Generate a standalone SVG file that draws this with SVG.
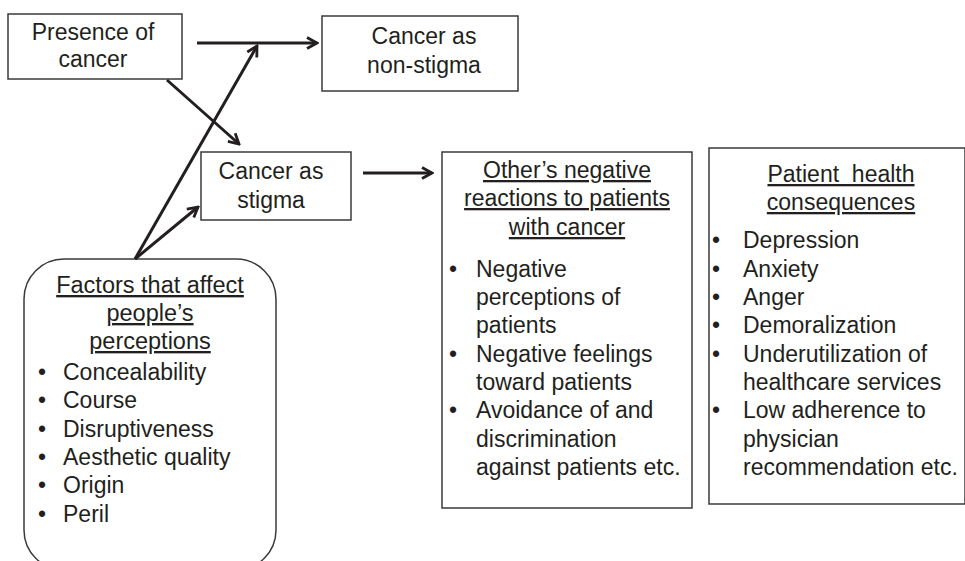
<svg xmlns="http://www.w3.org/2000/svg" width="965" height="561" viewBox="0 0 965 561">
<defs>
<marker id="ah" viewBox="0 0 14 14" refX="12" refY="7" markerWidth="14" markerHeight="14" markerUnits="userSpaceOnUse" orient="auto">
<path d="M2,1.5 L12,7 L2,12.5" fill="none" stroke="#231f20" stroke-width="2.8" stroke-linejoin="miter"/>
</marker>
</defs>
<style>
text{font-family:"Liberation Sans",Arial,sans-serif;font-size:23px;fill:#231f20}
.c{text-anchor:middle}
.u{text-decoration:underline}
.box{fill:#fff;stroke:#3a3a3a;stroke-width:1.5}
.con{stroke:#231f20;stroke-width:3;fill:none;marker-end:url(#ah)}
</style>
<rect width="965" height="561" fill="#fff"/>
<g id="presence">
<rect class="box" x="8" y="14" width="174" height="65"/>
<text class="c" x="93" y="40">Presence of</text>
<text class="c" x="93" y="67">cancer</text>
</g>
<g id="nonstigma">
<rect class="box" x="322" y="16" width="196" height="75"/>
<text class="c" x="424" y="44">Cancer as</text>
<text class="c" x="424" y="73">non-stigma</text>
</g>
<g id="stigma">
<rect class="box" x="201" y="152" width="150" height="68"/>
<text class="c" x="271" y="179">Cancer as</text>
<text class="c" x="271" y="208">stigma</text>
</g>
<g id="factors">
<rect class="box" x="24" y="259" width="252" height="311" rx="40" ry="40"/>
<text class="c u" x="150" y="293" style="font-size:23.5px">Factors that affect</text>
<text class="c u" x="150" y="321" style="font-size:23.5px">people’s</text>
<text class="c u" x="150" y="349" style="font-size:23.5px">perceptions</text>
<g style="font-size:23.5px">
<text x="38" y="380">•</text><text x="63" y="380">Concealability</text>
<text x="38" y="408">•</text><text x="63" y="408">Course</text>
<text x="38" y="437">•</text><text x="63" y="437">Disruptiveness</text>
<text x="38" y="465">•</text><text x="63" y="465">Aesthetic quality</text>
<text x="38" y="493">•</text><text x="63" y="493">Origin</text>
<text x="38" y="522">•</text><text x="63" y="522">Peril</text>
</g>
</g>
<g id="others">
<rect class="box" x="442" y="152" width="250" height="356"/>
<text class="c u" x="567" y="178">Other’s negative</text>
<text class="c u" x="567" y="206">reactions to patients</text>
<text class="c u" x="567" y="235">with cancer</text>
<text x="449" y="277">•</text><text x="476" y="277">Negative</text>
<text x="476" y="305">perceptions of</text>
<text x="476" y="333">patients</text>
<text x="449" y="362">•</text><text x="476" y="362">Negative feelings</text>
<text x="476" y="390">toward patients</text>
<text x="449" y="418">•</text><text x="476" y="418">Avoidance of and</text>
<text x="476" y="447">discrimination</text>
<text x="476" y="475">against patients etc.</text>
</g>
<g id="consequences">
<rect class="box" x="709" y="148" width="256" height="356"/>
<text class="c u" x="841" y="182" xml:space="preserve">Patient  health</text>
<text class="c u" x="841" y="210">consequences</text>
<text x="712" y="248">•</text><text x="743" y="248">Depression</text>
<text x="712" y="277">•</text><text x="743" y="277">Anxiety</text>
<text x="712" y="305">•</text><text x="743" y="305">Anger</text>
<text x="712" y="333">•</text><text x="743" y="333">Demoralization</text>
<text x="712" y="362">•</text><text x="743" y="362">Underutilization of</text>
<text x="743" y="390">healthcare services</text>
<text x="712" y="418">•</text><text x="743" y="418">Low adherence to</text>
<text x="743" y="447">physician</text>
<text x="743" y="475">recommendation etc.</text>
</g>
<g id="connectors">
<line class="con" x1="197" y1="43" x2="317" y2="43"/>
<line class="con" x1="167" y1="80" x2="239" y2="144"/>
<line class="con" x1="135" y1="259" x2="257" y2="46"/>
<line class="con" x1="135" y1="259" x2="198" y2="207"/>
<line class="con" x1="363" y1="173" x2="432" y2="173"/>
</g>
</svg>
